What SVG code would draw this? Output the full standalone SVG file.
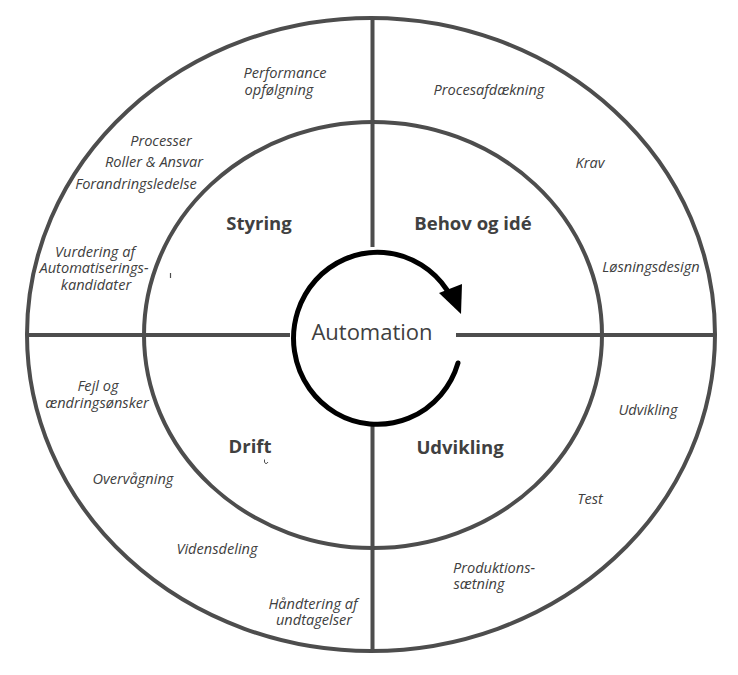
<svg xmlns="http://www.w3.org/2000/svg" width="738" height="675" viewBox="0 0 738 675">
<style>
.ln{fill:none;stroke:#4d4d4d;stroke-width:4}
.it{font-family:"Open Sans","Noto Sans",sans-serif;font-style:italic;font-size:14.6px;fill:#404040;text-anchor:middle}
.bd{font-family:"Open Sans","Noto Sans",sans-serif;font-weight:bold;font-size:18.5px;fill:#404040;text-anchor:middle}
.ctr{font-family:"Open Sans","Noto Sans",sans-serif;font-size:22px;fill:#404040;text-anchor:middle}
</style>
<rect width="738" height="675" fill="#ffffff"/>
<g id="rings">
<ellipse class="ln" cx="371" cy="334.5" rx="344" ry="316.5"/>
<ellipse class="ln" cx="373" cy="335" rx="229" ry="213"/>
</g>
<g id="dividers">
<line class="ln" x1="372.5" y1="18" x2="372.5" y2="247"/>
<line class="ln" x1="372.5" y1="422" x2="372.5" y2="651"/>
<line class="ln" x1="27" y1="335" x2="290" y2="335"/>
<line class="ln" x1="456" y1="335" x2="715" y2="335"/>
</g>
<g id="connectors">
<path d="M458 363 A84 86 0 1 1 447 290" fill="none" stroke="#000" stroke-width="5" stroke-linecap="round"/>
<polygon points="439,293 462,284 461,314" fill="#000"/>
</g>
<g id="center">
<text class="ctr" x="372" y="340">Automation</text>
</g>
<g id="styring">
<text class="bd" x="259" y="230">Styring</text>
<text class="it" x="285" y="78">Performance</text>
<text class="it" x="279" y="95">opfølgning</text>
<text class="it" x="161" y="146">Processer</text>
<text class="it" x="154" y="167">Roller &amp; Ansvar</text>
<text class="it" x="136" y="189">Forandringsledelse</text>
<text class="it" x="95" y="257">Vurdering af</text>
<text class="it" x="94" y="273">Automatiserings-</text>
<text class="it" x="96" y="290">kandidater</text>
<line x1="170.5" y1="273" x2="170.5" y2="278" stroke="#4d4d4d" stroke-width="1.2"/>
</g>
<g id="behov">
<text class="bd" x="473" y="230">Behov og idé</text>
<text class="it" x="489" y="95">Procesafdækning</text>
<text class="it" x="590" y="168">Krav</text>
<text class="it" x="651" y="272">Løsningsdesign</text>
</g>
<g id="drift">
<text class="bd" x="250" y="453">Drift</text>
<path d="M264.5 459.5 q-0.5 3 1 4 q1.5 0.5 2.5 -1.5" fill="none" stroke="#4d4d4d" stroke-width="1"/>
<text class="it" x="98" y="391">Fejl og</text>
<text class="it" x="97" y="408">ændringsønsker</text>
<text class="it" x="133" y="484">Overvågning</text>
<text class="it" x="217" y="554">Vidensdeling</text>
<text class="it" x="313" y="609">Håndtering af</text>
<text class="it" x="314" y="625">undtagelser</text>
</g>
<g id="udvikling">
<text class="bd" x="460" y="454">Udvikling</text>
<text class="it" x="648" y="415">Udvikling</text>
<text class="it" x="590" y="504">Test</text>
<text class="it" x="494" y="573">Produktions-</text>
<text class="it" x="479" y="589">sætning</text>
</g>
</svg>
